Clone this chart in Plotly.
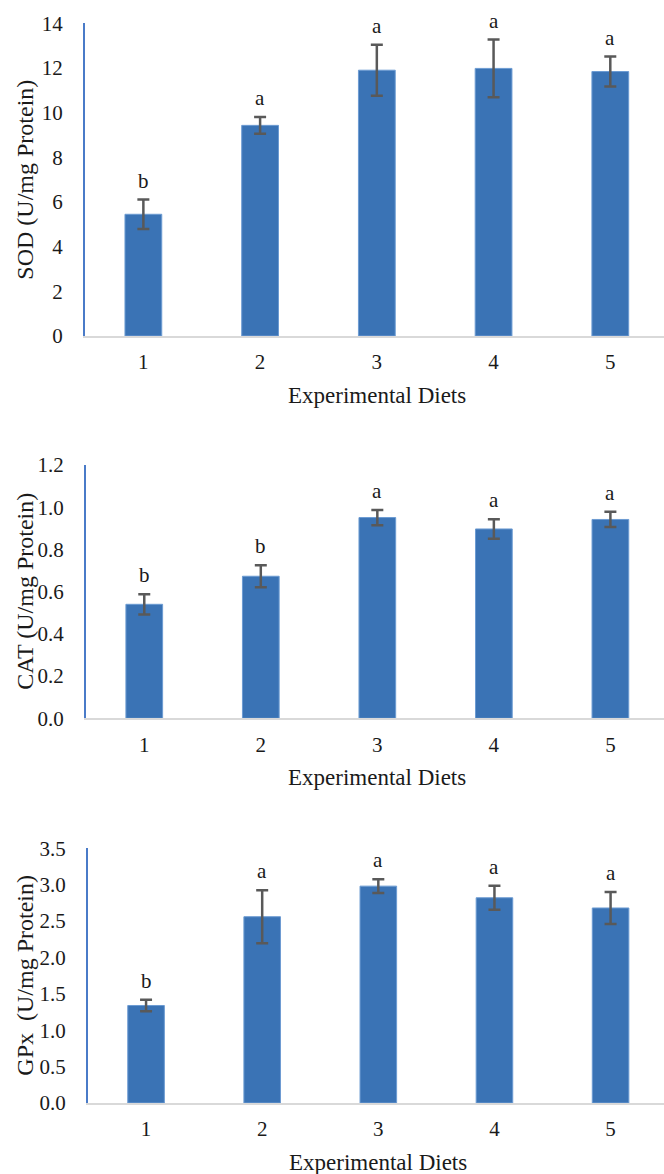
import plotly.graph_objects as go

diets = [1, 2, 3, 4, 5]

sod_mean = [5.45, 9.43, 11.90, 11.98, 11.84]
sod_sd = [0.66, 0.38, 1.14, 1.29, 0.67]
sod_letters = ["b", "a", "a", "a", "a"]

cat_mean = [0.540, 0.673, 0.951, 0.897, 0.942]
cat_sd = [0.048, 0.052, 0.036, 0.046, 0.036]
cat_letters = ["b", "b", "a", "a", "a"]

gpx_mean = [1.34, 2.56, 2.98, 2.82, 2.68]
gpx_sd = [0.08, 0.365, 0.095, 0.165, 0.22]
gpx_letters = ["b", "a", "a", "a", "a"]

W, H = 664, 1174
FONT = "Liberation Serif"
TXT = "#1a1a1a"
BAR = "#3A73B5"
BAR_EDGE = "#6C9BD2"
ERR = "#595959"

panels = [
    # means, sds, letters, y title, y range, y tick step, tick format,
    # plot-area pixel box (left, top, bottom)
    (sod_mean, sod_sd, sod_letters, "SOD (U/mg Protein)", 14, 2, "d", (85, 23.3, 336)),
    (cat_mean, cat_sd, cat_letters, "CAT (U/mg Protein)", 1.2, 0.2, ".1f", (86, 465, 718.3)),
    (gpx_mean, gpx_sd, gpx_letters, "GPx\u00a0 (U/mg Protein)", 3.5, 0.5, ".1f", (88, 848.3, 1103)),
]

fig = go.Figure()
layout = dict(
    width=W, height=H,
    margin=dict(l=0, r=0, t=0, b=0, pad=0, autoexpand=False),
    paper_bgcolor="white", plot_bgcolor="white",
    showlegend=False,
    font=dict(family=FONT, color=TXT, size=20),
)
annotations = []

for i, (mean, sd, letters, ytitle, ymax, dtick, fmt, box) in enumerate(panels, start=1):
    left, top, bottom = box
    xa = "x" if i == 1 else f"x{i}"
    ya = "y" if i == 1 else f"y{i}"
    fig.add_trace(go.Bar(
        x=diets, y=mean, xaxis=xa, yaxis=ya,
        width=0.315,
        marker=dict(color=BAR, line=dict(color=BAR_EDGE, width=1)),
        error_y=dict(type="data", array=sd, visible=True,
                     color=ERR, thickness=2.5, width=6),
        hoverinfo="skip",
    ))
    key_x = "xaxis" if i == 1 else f"xaxis{i}"
    key_y = "yaxis" if i == 1 else f"yaxis{i}"
    layout[key_x] = dict(
        domain=[left / W, 1], anchor=ya,
        range=[0.5, 5.46], tickmode="array", tickvals=diets,
        ticktext=[str(d) for d in diets],
        showgrid=False, zeroline=False, ticks="",
        showline=True, linecolor="#D9D9D9", linewidth=2,
        tickfont=dict(family=FONT, size=21, color=TXT),
        ticklabelstandoff=6,
        automargin=False,
        fixedrange=True,
    )
    layout[key_y] = dict(
        domain=[1 - bottom / H, 1 - top / H], anchor=xa,
        range=[0, ymax], dtick=dtick, tick0=0, tickformat=fmt,
        showgrid=False, zeroline=False, ticks="",
        showline=True, linecolor="#4A7BC8", linewidth=2,
        tickfont=dict(family=FONT, size=21, color=TXT),
        ticklabelstandoff=16,
        automargin=False,
        fixedrange=True,
    )
    # significance letters above each error bar
    for d, m, s, lt in zip(diets, mean, sd, letters):
        annotations.append(dict(
            x=d, y=m + s, xref=xa, yref=ya, text=lt, showarrow=False,
            yanchor="middle", yshift=19,
            font=dict(family=FONT, size=21, color=TXT),
        ))
    # x-axis title
    annotations.append(dict(
        x=3, xref=xa, y=1 - (bottom + 59) / H, yref="paper",
        text="Experimental Diets", showarrow=False, yanchor="middle",
        font=dict(family=FONT, size=23, color=TXT),
    ))
    # y-axis title
    annotations.append(dict(
        x=25 / W, xref="paper", y=1 - (top + bottom) / 2 / H, yref="paper",
        text=ytitle, showarrow=False, textangle=-90,
        xanchor="center", yanchor="middle",
        font=dict(family=FONT, size=24, color=TXT),
    ))

layout["annotations"] = annotations
fig.update_layout(**layout)
fig.write_html("out.html")
